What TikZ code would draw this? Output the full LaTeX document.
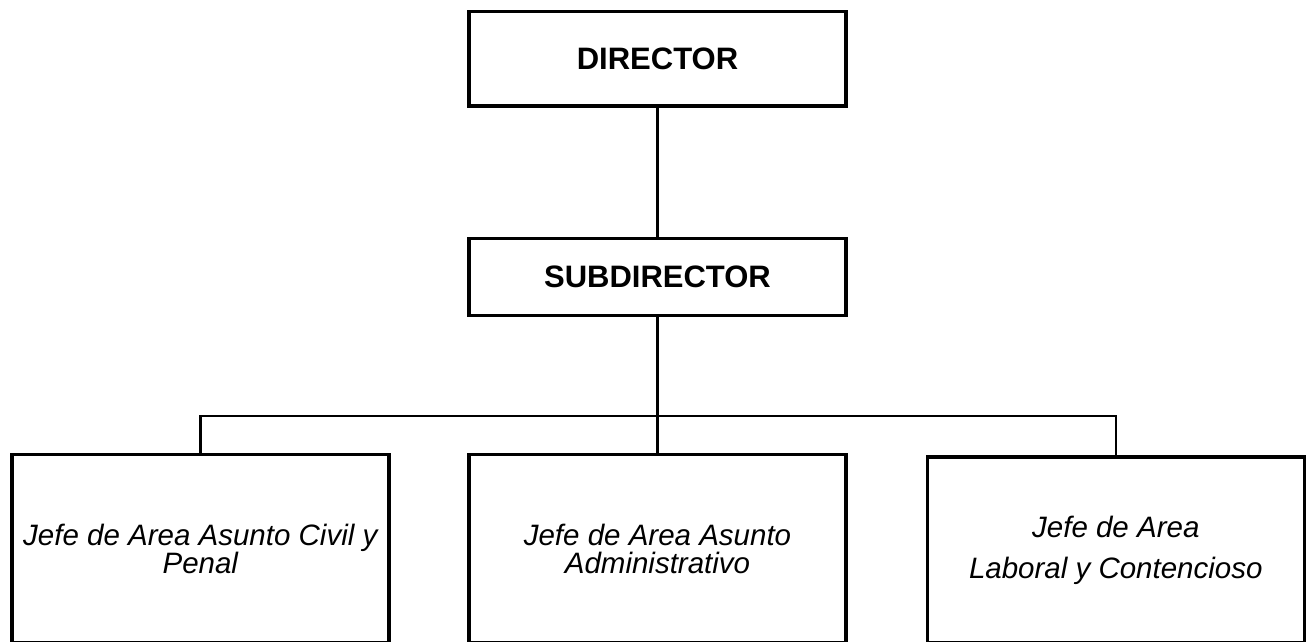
\documentclass[tikz,border=0pt]{standalone}
\usepackage{fontspec}
\setmainfont{Liberation Sans}

\begin{document}
\begin{tikzpicture}[x=1pt,y=-1pt,
  box/.style={draw=black,line width=3.5pt,inner sep=0pt,minimum width=377pt,align=center},
  boss/.style={box,font=\fontsize{31}{32}\selectfont\bfseries},
  area/.style={box,font=\fontsize{29.5}{28}\selectfont\itshape},
  conn/.style={draw=black,line width=2.5pt}]

% page size
  \useasboundingbox (0,0) rectangle (1310,642);

% director and subdirector
  \node[boss,minimum height=94.7pt] (dir) at (657.5,58.7) {DIRECTOR};
  \node[boss,minimum height=76.7pt] (sub) at (657.5,277) {SUBDIRECTOR};

% area heads, their bottom edge runs off the page
  \node[area,minimum height=188.7pt] (civil) at (200.3,548.7) {Jefe de Area Asunto Civil y\\Penal};
  \node[area,minimum height=188.7pt] (admin) at (657.5,548.7) {Jefe de Area Asunto\\Administrativo};
  \node[area,minimum height=186pt,font=\fontsize{29.5}{41}\selectfont\itshape] (laboral) at (1115.8,550) {Jefe de Area\\Laboral y Contencioso};

% lines
  \coordinate (bus) at (657.5,416);
  \draw[conn] (dir.south) -- (sub.north);
  \draw[conn] (sub.south) -- (admin.north);
  \draw[conn] (bus) -| (civil.north);
  \draw[conn] (bus) -| (laboral.north);

\end{tikzpicture}
\end{document}
